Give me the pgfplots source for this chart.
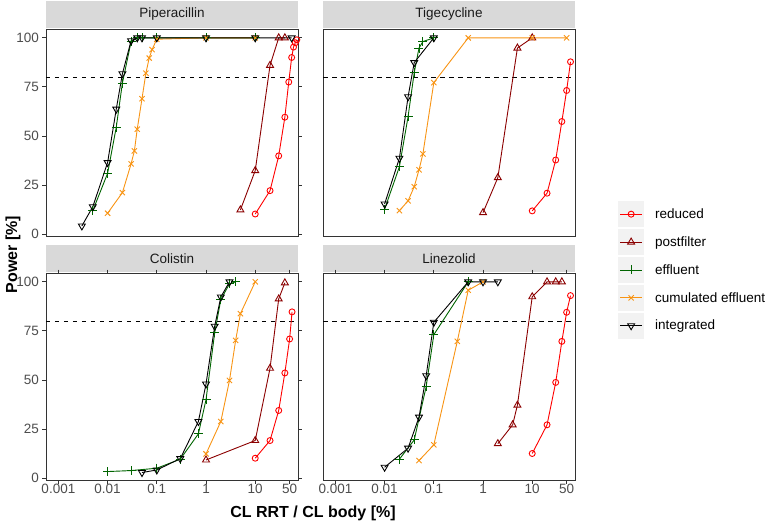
\documentclass[border=0pt]{standalone}
\usepackage{pgfplots}
\pgfplotsset{compat=1.18}
\usepackage{fontspec}
\setmainfont{Liberation Sans}
\definecolor{cred}{RGB}{255,0,0}
\definecolor{cdred}{RGB}{139,0,0}
\definecolor{cgreen}{RGB}{0,100,0}
\definecolor{corange}{RGB}{248,148,20}
\definecolor{stripgray}{RGB}{217,217,217}
\definecolor{keygray}{RGB}{242,242,242}
\definecolor{axgray}{RGB}{51,51,51}
\definecolor{ticklab}{RGB}{77,77,77}
\definecolor{striptext}{RGB}{26,26,26}

\pgfplotsset{
  every axis/.append style={
    scale only axis, width=252bp, height=207bp,
    anchor=north west,
    xmin=5.6e-4, xmax=74, ymin=-0.9, ymax=104.5,
    axis line style={draw=axgray, line width=0.9bp},
    tick style={draw=axgray, line width=0.9bp},
    tick align=outside, major tick length=3.5bp,
    xminorticks=false, yminorticks=false,
    ticklabel style={font=\fontsize{13.5bp}{14bp}\selectfont, text=ticklab},
    xticklabel style={yshift=2.5bp},
  },
  myred/.style={draw=cred, line width=0.9bp, mark=o, mark size=3bp, mark options={solid, line width=0.9bp}},
  mydred/.style={draw=cdred, line width=0.9bp, mark=triangle, mark size=4bp, mark options={solid, line width=0.9bp}},
  mygreen/.style={draw=cgreen, line width=0.9bp, mark=+, mark size=4.5bp, mark options={solid, line width=0.9bp}},
  myorange/.style={draw=corange, line width=0.9bp, mark=x, mark size=3.7bp, mark options={solid, line width=0.9bp}},
  myblack/.style={draw=black, line width=0.9bp, mark=triangle, mark size=4bp, mark options={solid, rotate=180, line width=0.9bp}},
  myhline/.style={black, line width=0.9bp, dash pattern=on 4.5bp off 4.5bp, forget plot},
}

\begin{document}
\begin{tikzpicture}
\path[use as bounding box] (0,0) rectangle (768bp,-526bp);

% strips
\fill[stripgray] (46bp,-1bp) rectangle (298bp,-28bp);
\fill[stripgray] (323bp,-1bp) rectangle (575bp,-28bp);
\fill[stripgray] (46bp,-245bp) rectangle (298bp,-272bp);
\fill[stripgray] (323bp,-245bp) rectangle (575bp,-272bp);
\begin{scope}[every node/.style={text=striptext, font=\fontsize{13.5bp}{14bp}\selectfont}]
\node at (172bp,-14.5bp) {Piperacillin};
\node at (449bp,-14.5bp) {Tigecycline};
\node at (172bp,-258.5bp) {Colistin};
\node at (449bp,-258.5bp) {Linezolid};
\end{scope}

% Piperacillin
\begin{axis}[xmode=log, at={(46bp,-29bp)}, xtick=\empty, ytick={0,25,50,75,100},
  yticklabels={\mbox{0},\mbox{25},\mbox{50},\mbox{75},\mbox{100}}]
\addplot[myhline] coordinates {(5.6e-4,80) (74,80)};
\addplot[myred] coordinates {(10,10.3) (20,22.2) (30,39.9) (40,59.6) (48,77.5) (55,90) (60,95.3) (65,97.5) (70,99)};
\addplot[mydred] coordinates {(5,12.4) (10,32.4) (20,86) (30,100) (40,100)};
\addplot[mygreen] coordinates {(0.005,12) (0.01,31) (0.015,54.5) (0.02,77) (0.03,98) (0.04,100) (0.05,100) (0.1,100) (1,100) (10,100)};
\addplot[myorange] coordinates {(0.01,10.7) (0.02,21.2) (0.03,35.8) (0.035,42.4) (0.04,53.5) (0.05,69) (0.06,82) (0.07,89.7) (0.08,94) (0.1,99.3) (1,100) (10,100)};
\addplot[myblack] coordinates {(0.003,4.2) (0.005,14) (0.01,36.5) (0.015,63.7) (0.02,81.7) (0.03,98.5) (0.04,100) (0.05,100) (0.1,100) (1,100) (10,100) (55,100)};
\end{axis}

% Tigecycline
\begin{axis}[xmode=log, at={(323bp,-29bp)}, xtick=\empty, ytick=\empty]
\addplot[myhline] coordinates {(5.6e-4,80) (74,80)};
\addplot[myred] coordinates {(10,11.9) (20,20.9) (30,37.8) (40,57.4) (50,73.2) (60,87.8)};
\addplot[mydred] coordinates {(1,11) (2,28.8) (5,94.8) (10,100)};
\addplot[mygreen] coordinates {(0.01,12.7) (0.02,34.4) (0.03,59.9) (0.04,82.3) (0.05,94.8) (0.06,98.1) (0.1,100)};
\addplot[myorange] coordinates {(0.02,12) (0.03,17) (0.04,24.2) (0.05,32.8) (0.06,40.9) (0.1,77.2) (0.5,100) (10,100) (50,100)};
\addplot[myblack] coordinates {(0.01,15.4) (0.02,38.7) (0.03,70) (0.04,87.4) (0.1,100)};
\end{axis}

% Colistin
\begin{axis}[xmode=log, at={(46bp,-273bp)}, xtick={0.001,0.01,0.1,1,10,50},
  xticklabels={\mbox{0.001},\mbox{0.01},\mbox{0.1},\mbox{1},\mbox{10},\mbox{50}},
  ytick={0,25,50,75,100},
  yticklabels={\mbox{0},\mbox{25},\mbox{50},\mbox{75},\mbox{100}}]
\addplot[myhline] coordinates {(5.6e-4,80) (74,80)};
\addplot[myred] coordinates {(10,10.2) (20,19.2) (30,34.5) (40,53.6) (50,70.9) (56,84.7)};
\addplot[mydred] coordinates {(1,9.3) (10,19.2) (20,56) (30,91.3) (40,99.5)};
\addplot[mygreen] coordinates {(0.01,3.4) (0.03,3.9) (0.1,5.1) (0.3,9.7) (0.7,22.6) (1,40) (1.5,74) (2,91) (3,99) (4,100)};
\addplot[myorange] coordinates {(1,12.4) (2,28.9) (3,49.8) (4,70.2) (5,83.8) (10,100)};
\addplot[myblack] coordinates {(0.05,2.9) (0.1,4.2) (0.3,10) (0.7,28.9) (1,48) (1.5,77.4) (2,92.3) (3,100)};
\end{axis}

% Linezolid
\begin{axis}[xmode=log, at={(323bp,-273bp)}, xtick={0.001,0.01,0.1,1,10,50},
  xticklabels={\mbox{0.001},\mbox{0.01},\mbox{0.1},\mbox{1},\mbox{10},\mbox{50}},
  ytick=\empty,
  legend style={at={(1.1706,1.3478)}, anchor=north west, draw=none, fill=none,
    inner sep=0pt, row sep=2bp, column sep=9bp,
    font=\fontsize{13.5bp}{14bp}\selectfont, cells={anchor=west}},
  legend cell align=left,
  legend image code/.code={%
    \fill[keygray] (0bp,-12.5bp) rectangle (25bp,12.5bp);
    \draw[mark repeat=2, mark phase=2, #1] plot coordinates {(1.5bp,0bp) (12.5bp,0bp) (23.5bp,0bp)};
  }]
\addplot[myhline] coordinates {(5.6e-4,80) (74,80)};
\addplot[myred] coordinates {(10,12.6) (20,27.2) (30,48.8) (40,69.7) (50,84.5) (60,93)};
\addplot[mydred] coordinates {(2,17.6) (4,27.2) (5,37.2) (10,92.4) (20,100) (30,100) (40,100)};
\addplot[mygreen] coordinates {(0.02,9.7) (0.04,19.5) (0.07,46.7) (0.1,73.1) (0.5,100)};
\addplot[myorange] coordinates {(0.05,9) (0.1,17) (0.3,69.7) (0.5,95.7) (1,100)};
\addplot[myblack] coordinates {(0.01,5.6) (0.03,15.3) (0.05,31.1) (0.07,52.2) (0.1,79.4) (0.5,100) (1,100) (2,100)};
\legend{reduced, postfilter, effluent, cumulated effluent, integrated}
\end{axis}

\node[rotate=90, font=\bfseries\fontsize{16bp}{16bp}\selectfont] at (13bp,-254.5bp) {Power [\%]};
\node[font=\bfseries\fontsize{16bp}{16bp}\selectfont] at (313bp,-513bp) {CL RRT / CL body [\%]};
\end{tikzpicture}
\end{document}
